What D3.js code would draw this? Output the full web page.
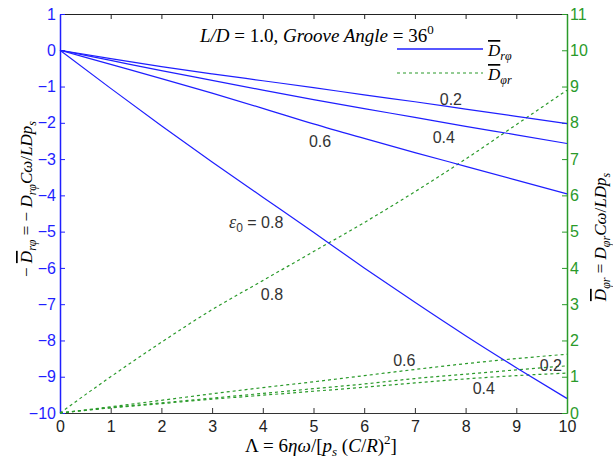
<!DOCTYPE html>
<html>
  <head>
    <title>Groove bearing cross damping</title>
    <script src="https://cdn.jsdelivr.net/npm/d3@7"></script>
    <style>
      body { margin: 0; background: #fff; }
      .tick text { font-family: 'Liberation Sans', Arial, sans-serif; font-size: 16px; }
      .math { font-family: 'Liberation Serif', 'Times New Roman', serif; font-size: 17px; fill: #000; }
      .lbl { font-family: 'Liberation Sans', Arial, sans-serif; font-size: 16px; fill: #333; }
    </style>
  </head>
  <body>
    <svg width="613" height="463" id="mainsvg"></svg>
    <script>
        // Lambda values along x
        const lambda = [0, 1, 2, 3, 4, 5, 6, 7, 8, 9, 10];
        const eccentricities = [0.2, 0.4, 0.6, 0.8];

        // -Drphi (left axis), one array per eccentricity
        const drp02 = [0, -0.23, -0.45, -0.65, -0.84, -1.03, -1.23, -1.42, -1.62, -1.82, -2.02];
        const drp04 = [0, -0.28, -0.56, -0.83, -1.10, -1.36, -1.61, -1.85, -2.10, -2.33, -2.57];
        const drp06 = [0, -0.39, -0.78, -1.18, -1.60, -2.03, -2.43, -2.82, -3.20, -3.58, -3.96];
        const drp08 = [0, -1.05, -2.08, -3.08, -4.05, -5.02, -6.00, -6.95, -7.87, -8.75, -9.60];

        // Dphir (right axis)
        const dpr02 = [0, 0.15, 0.28, 0.41, 0.54, 0.67, 0.80, 0.95, 1.07, 1.19, 1.30];
        const dpr04 = [0, 0.14, 0.26, 0.38, 0.49, 0.60, 0.71, 0.83, 0.94, 1.03, 1.10];
        const dpr06 = [0, 0.17, 0.35, 0.53, 0.70, 0.86, 1.03, 1.20, 1.36, 1.50, 1.62];
        const dpr08 = [0, 1.00, 1.95, 2.85, 3.65, 4.45, 5.25, 6.10, 7.00, 7.95, 8.90];

        const xTicks = [0, 1, 2, 3, 4, 5, 6, 7, 8, 9, 10];
        const leftTicks = [-10, -9, -8, -7, -6, -5, -4, -3, -2, -1, 0, 1];
        const rightTicks = [0, 1, 2, 3, 4, 5, 6, 7, 8, 9, 10, 11];

        const blue = '#1f1fff';
        const green = '#2a9a2a';

        const svg = d3.select('#mainsvg');
        const margin = {top: 14, right: 46, bottom: 50, left: 60};
        const width = +svg.attr('width');
        const height = +svg.attr('height');
        const innerWidth = width - margin.left - margin.right;
        const innerHeight = height - margin.top - margin.bottom;

        const xScale = d3.scaleLinear().domain([0, 10]).range([0, innerWidth]);
        const yLeft = d3.scaleLinear().domain([-10, 1]).range([innerHeight, 0]);
        const yRight = d3.scaleLinear().domain([0, 11]).range([innerHeight, 0]);

        const g = svg.append('g').attr('transform', `translate(${margin.left}, ${margin.top})`);

        // axes, MATLAB style ticks pointing inward
        const xAxis = d3.axisBottom(xScale).tickValues(xTicks).tickSizeInner(-5).tickSizeOuter(0).tickPadding(8);
        const gx = g.append('g').attr('transform', `translate(0, ${innerHeight})`).call(xAxis);
        gx.selectAll('path, line').attr('stroke', '#333');
        gx.selectAll('text').attr('fill', '#222');

        const gTop = g.append('g').call(d3.axisTop(xScale).tickValues(xTicks).tickSizeInner(-5).tickSizeOuter(0).tickFormat(''));
        gTop.selectAll('path, line').attr('stroke', '#222');

        const gl = g.append('g').call(d3.axisLeft(yLeft).tickValues(leftTicks).tickSizeInner(-5).tickSizeOuter(0).tickPadding(4));
        gl.selectAll('path, line').attr('stroke', blue);
        gl.select('path').attr('stroke-width', 1.5);
        gl.selectAll('text').attr('fill', blue);

        const gr = g.append('g').attr('transform', `translate(${innerWidth}, 0)`)
          .call(d3.axisRight(yRight).tickValues(rightTicks).tickSizeInner(-5).tickSizeOuter(0).tickPadding(3));
        gr.selectAll('path, line').attr('stroke', green);
        gr.select('path').attr('stroke-width', 1.5);
        gr.selectAll('text').attr('fill', green);

        // curves
        const lineL = d3.line().x((d, i) => xScale(lambda[i])).y(d => yLeft(d)).curve(d3.curveMonotoneX);
        const lineR = d3.line().x((d, i) => xScale(lambda[i])).y(d => yRight(d)).curve(d3.curveMonotoneX);

        [dpr02, dpr04, dpr06, dpr08].forEach(s => {
          g.append('path').attr('d', lineR(s)).attr('fill', 'none')
            .attr('stroke', green).attr('stroke-width', 1.2).attr('stroke-dasharray', '3,3');
        });
        [drp02, drp04, drp06, drp08].forEach(s => {
          g.append('path').attr('d', lineL(s)).attr('fill', 'none')
            .attr('stroke', blue).attr('stroke-width', 1.2);
        });

        // curve labels, anchored in data coordinates
        const blueLabels = [['0.2', 7.71, -1.51], ['0.4', 7.57, -2.56], ['0.6', 5.13, -2.67]];
        blueLabels.forEach(d => {
          g.append('text').attr('class', 'lbl').attr('text-anchor', 'middle')
            .attr('x', xScale(d[1])).attr('y', yLeft(d[2])).text(d[0]);
        });
        const greenLabels = [['0.8', 4.18, 3.11], ['0.6', 6.79, 1.30], ['0.4', 8.36, 0.52], ['0.2', 9.68, 1.16]];
        greenLabels.forEach(d => {
          g.append('text').attr('class', 'lbl').attr('text-anchor', 'middle')
            .attr('x', xScale(d[1])).attr('y', yRight(d[2])).text(d[0]);
        });
        const eps = g.append('text').attr('class', 'lbl').attr('text-anchor', 'middle')
          .attr('x', xScale(3.87)).attr('y', yLeft(-4.9));
        eps.append('tspan').attr('font-family', 'Liberation Serif').attr('font-style', 'italic').attr('font-size', 18).text('ε');
        eps.append('tspan').attr('font-size', 12).attr('dy', 4).text('0');
        eps.append('tspan').attr('dy', -4).text(' = 0.8');

        // helper for math text pieces
        function piece(t, s, opt) {
          const ts = t.append('tspan').text(s);
          if (opt && opt.it) ts.attr('font-style', 'italic');
          if (opt && opt.size) ts.attr('font-size', opt.size);
          if (opt && opt.dy) ts.attr('dy', opt.dy);
          if (opt && opt.over) ts.style('text-decoration', 'overline');
          return ts;
        }

        // title
        const title = svg.append('text').attr('class', 'math').attr('x', 200).attr('y', 42)
          .attr('font-size', 19).style('font-size', '19px');
        piece(title, 'L/D', {it: true});
        piece(title, ' = 1.0, ');
        piece(title, 'Groove Angle', {it: true});
        piece(title, ' = 36');
        piece(title, '0', {size: 13, dy: -8});

        // legend
        svg.append('line').attr('x1', 397).attr('x2', 483).attr('y1', 49).attr('y2', 49)
          .attr('stroke', blue).attr('stroke-width', 1.4);
        svg.append('line').attr('x1', 397).attr('x2', 483).attr('y1', 73).attr('y2', 73)
          .attr('stroke', green).attr('stroke-width', 1.2).attr('stroke-dasharray', '3,3');
        const l1 = svg.append('text').attr('class', 'math').attr('x', 488).attr('y', 56);
        piece(l1, 'D', {it: true, over: true});
        piece(l1, 'rφ', {it: true, size: 12, dy: 4});
        const l2 = svg.append('text').attr('class', 'math').attr('x', 488).attr('y', 80);
        piece(l2, 'D', {it: true, over: true});
        piece(l2, 'φr', {it: true, size: 12, dy: 4});

        // x label
        const xl = svg.append('text').attr('class', 'math').attr('text-anchor', 'middle')
          .attr('x', 321).attr('y', 452).style('font-size', '19px');
        piece(xl, 'Λ = 6');
        piece(xl, 'ηω', {it: true});
        piece(xl, '/[');
        piece(xl, 'p', {it: true});
        piece(xl, 's', {it: true, size: 13, dy: 4});
        piece(xl, ' (', {dy: -4});
        piece(xl, 'C', {it: true});
        piece(xl, '/');
        piece(xl, 'R', {it: true});
        piece(xl, ')');
        piece(xl, '2', {size: 13, dy: -8});
        piece(xl, ']', {dy: 8});

        // left y label
        const yl = svg.append('text').attr('class', 'math').attr('text-anchor', 'middle')
          .attr('transform', 'translate(32, 199) rotate(-90)');
        piece(yl, '− ');
        piece(yl, 'D', {it: true, over: true});
        piece(yl, 'rφ', {it: true, size: 12, dy: 4});
        piece(yl, ' = − ', {dy: -4});
        piece(yl, 'D', {it: true});
        piece(yl, 'rφ', {it: true, size: 12, dy: 4});
        piece(yl, 'Cω', {it: true, dy: -4});
        piece(yl, '/');
        piece(yl, 'LDp', {it: true});
        piece(yl, 's', {it: true, size: 12, dy: 4});

        // right y label
        const yr = svg.append('text').attr('class', 'math').attr('text-anchor', 'middle')
          .attr('transform', 'translate(606, 237) rotate(-90)');
        piece(yr, 'D', {it: true, over: true});
        piece(yr, 'φr', {it: true, size: 12, dy: 4});
        piece(yr, ' = ', {dy: -4});
        piece(yr, 'D', {it: true});
        piece(yr, 'φr', {it: true, size: 12, dy: 4});
        piece(yr, 'Cω', {it: true, dy: -4});
        piece(yr, '/');
        piece(yr, 'LDp', {it: true});
        piece(yr, 's', {it: true, size: 12, dy: 4});
    </script>
  </body>
</html>
